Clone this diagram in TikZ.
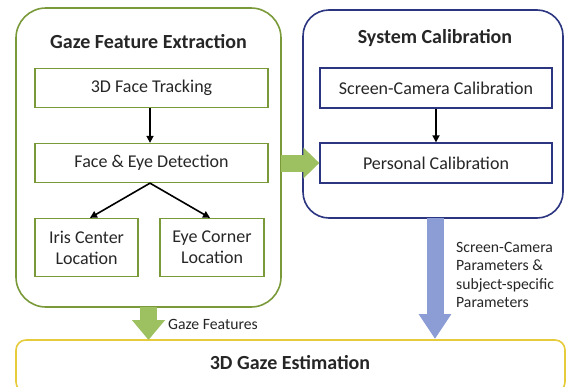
\documentclass[tikz,border=0pt]{standalone}
\usepackage{fontspec}
\setmainfont{Carlito}
\usetikzlibrary{arrows.meta,positioning}
\definecolor{gborder}{HTML}{7A9A3A}
\definecolor{garrow}{HTML}{9DC060}
\definecolor{bborder}{HTML}{2B3580}
\definecolor{barrow}{HTML}{8C9DD6}
\definecolor{yborder}{HTML}{E6CC3A}
\definecolor{txt}{HTML}{262626}
\tikzset{
  container/.style={draw, line width=1.6pt, rounded corners=#1},
  gbox/.style={draw=gborder, line width=1.3pt, font=\fontsize{18}{21}\selectfont, text=txt, align=center, inner sep=0pt},
  bbox/.style={draw=bborder, line width=1.3pt, font=\fontsize{18}{21}\selectfont, text=txt, align=center, inner sep=0pt},
  title/.style={font=\bfseries\fontsize{20}{24}\selectfont, text=txt, inner sep=0pt},
  thin arrow/.style={-{Triangle[width=7pt,length=7pt]}, line width=1.6pt, black},
  lbl/.style={font=\fontsize{15.7}{18.5}\selectfont, align=left, inner sep=0pt, text=txt}
}
\begin{document}
\begin{tikzpicture}[x=1pt,y=-1pt]
\useasboundingbox (0,0) rectangle (567,386);
% containers
\draw[container=30, draw=gborder] (16,8) rectangle (281,307);
\coordinate (gfeE) at (281,163);
\coordinate (gfeS) at (148.5,307);
\draw[container=26, draw=bborder] (303,10) rectangle (563,218);
\coordinate (scS) at (435,218);
\draw[draw=yborder, line width=1.6pt, rounded corners=10] (16,340) rectangle (565,392);
% titles
\node[title] (t1) at (148.5,42) {Gaze Feature Extraction};
\node[title] (t2) at (435,38) {System Calibration};
% left boxes
\node[gbox, minimum width=233pt, minimum height=39pt] (ft) at (151.5,88) {3D Face Tracking};
\node[gbox, minimum width=233pt, minimum height=39pt] (fd) at (151.5,163) {Face \& Eye Detection};
\node[gbox, minimum width=103pt, minimum height=58pt] (ic) at (86.5,247.5) {Iris Center\\Location};
\node[gbox, minimum width=104pt, minimum height=58pt] (ec) at (212,247.5) {Eye Corner\\Location};
% right boxes
\node[bbox, minimum width=232pt, minimum height=40pt] (scc) at (436,88) {Screen-Camera Calibration};
\node[bbox, minimum width=232pt, minimum height=40pt] (pc) at (436,163) {Personal Calibration};
% estimation
\node[title] (est) at (290,363) {3D Gaze Estimation};
\coordinate (estN1) at (148.5,340);
\coordinate (estN2) at (435,339);
% thin arrows
\draw[thin arrow] (ft.south -| 150,0) -- (fd.north -| 150,0);
\draw[thin arrow] (fd.south -| 150,0) -- (ic.north -| 90,0);
\draw[thin arrow] (fd.south -| 150,0) -- (ec.north -| 210,0);
\draw[thin arrow] (scc.south -| 436,0) -- (pc.north -| 436,0);
% fat arrows
\draw[draw=garrow, line width=17pt, -{Triangle[width=30pt,length=16pt]}] (gfeE) -- (pc.west);
\draw[draw=garrow, line width=17pt, -{Triangle[width=32pt,length=20pt]}] (gfeS) -- (estN1);
\draw[draw=barrow, line width=17pt, -{Triangle[width=31pt,length=25pt]}] (scS) -- (estN2);
% labels
\node[lbl, anchor=west] (gf) at (168,324) {Gaze Features};
\node[lbl, anchor=north west] (params) at (456,242) {Screen-Camera\\Parameters \&\\subject-specific\\Parameters};
\end{tikzpicture}
\end{document}
